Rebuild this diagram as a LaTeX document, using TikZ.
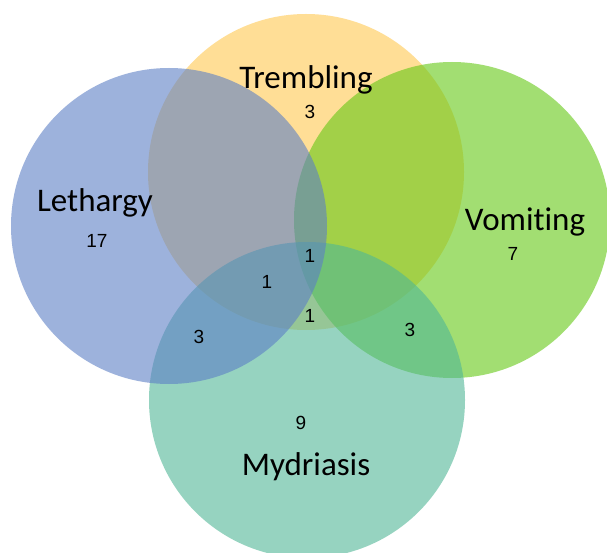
\documentclass[tikz,border=0pt]{standalone}
\usepackage{fontspec}
\setmainfont{Carlito}[Ligatures=NoCommon]
\newfontfamily\numfont{Liberation Sans}
\usepackage{xcolor}
\usepackage{tikz}
\usetikzlibrary{positioning}
\definecolor{lethargyblue}{RGB}{92,127,197}
\definecolor{tremblingyellow}{RGB}{255,200,80}
\definecolor{vomitinggreen}{RGB}{100,200,20}
\definecolor{mydriasisteal}{RGB}{80,183,150}
\tikzstyle{setcircle}=[
circle,
minimum size=316pt,
inner sep=0pt,
fill opacity=0.6
]
\tikzstyle{setname}=[
font=\fontsize{33}{33}\selectfont,
anchor=base
]
\tikzstyle{count}=[
font=\numfont\fontsize{19}{19}\selectfont,
inner sep=0pt
]

\begin{document}
\begin{tikzpicture}[x=1pt,y=-1pt]

\useasboundingbox (0,0) rectangle (607,553);
\fill[white] (0,0) rectangle (607,553);

% the four sets
\node (trembling) [setcircle, fill=tremblingyellow] at (306,172) {};
\node (vomiting) [setcircle, fill=vomitinggreen] at (452,220) {};
\node (mydriasis) [setcircle, fill=mydriasisteal] at (307,400) {};
\node (lethargy) [setcircle, fill=lethargyblue] at (169,226) {};

% set names
\node (tremblinglabel) [setname] at (306,89) {Trembling};
\node (lethargylabel) [setname] at (95,212) {Lethargy};
\node (vomitinglabel) [setname] at (525,231) {Vomiting};
\node (mydriasislabel) [setname] at (306,475) {Mydriasis};

% counts
\node (ntrembling) [count] at (310,112) {3};
\node (nlethargy) [count] at (97,241) {17};
\node (nvomiting) [count] at (513,254) {7};
\node (nmydriasis) [count] at (301,423) {9};
\node (nltvm) [count] at (310,256) {1};
\node (nltm) [count] at (267,282) {1};
\node (ntvm) [count] at (310,316) {1};
\node (nlm) [count] at (199,337) {3};
\node (nvm) [count] at (410,330) {3};

\end{tikzpicture}
\end{document}
